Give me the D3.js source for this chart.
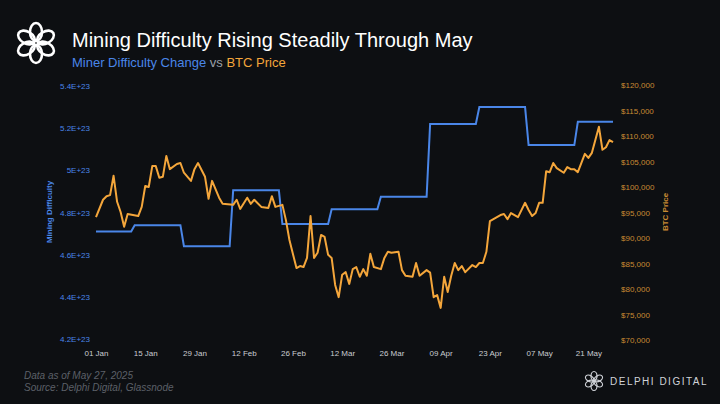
<!DOCTYPE html>
<html>
<head>
<meta charset="utf-8">
<script src="https://d3js.org/d3.v7.min.js"></script>
<style>
body { margin: 0; background: #0d0f12; }
svg text { font-family: "Liberation Sans", Arial, sans-serif; }
</style>
</head>
<body>
<div id="chart"></div>
<script>
// BTC price: day offset from 01 Jan 2025, price in USD
var priceDays = [0,2,3,4,5,6,7,8,9,12,13,14,15,16,17,18,19,20,21,23,24,25,27,28,29,31,32,33,35,36,39,40,41,43,44,45,47,49,50,51,53,54,55,57,58,59,60,61,62,63,64,65,66,67,68,69,70,71,72,73,74,75,76,77,78,79,81,82,83,84,86,87,88,90,91,92,94,95,96,97,98,99,100,101,102,103,104,105,107,108,109,110,111,112,113,115,116,117,118,120,122,123,124,125,126,127,128,129,130,131,133,134,135,136,137,139,140,141,143,144,145,146,147];
var priceVals = [94100,97500,98200,98400,102200,97100,95100,92200,94700,94300,96100,100200,100000,104100,104100,101800,102000,106100,103500,104500,104700,102800,101200,103500,104700,102000,97700,101200,97900,96700,96500,97500,95700,97900,96700,97500,96100,95900,98200,96100,96500,93500,89600,84100,84500,84300,86100,94300,86100,87100,90600,90200,86700,86100,80800,78400,82800,83300,81000,83900,84300,82400,83900,82600,86900,84300,83900,86100,87300,87100,87300,83700,82600,82400,85100,82600,83700,83200,78400,78800,76300,82400,79400,82600,85100,83700,84500,83300,84700,84300,85100,85100,87300,93300,93700,94500,94700,93700,94900,94100,96900,95500,94300,94900,96900,96900,103100,102900,104700,103700,102800,103900,103500,103500,102900,106500,105700,106700,111800,107300,107800,109200,108800];
// Mining difficulty: adjustment start day and value (E+23)
var diffDays = [0,11,25,39,53,67,81,95,109,123,137];
var diffVals = [4.71,4.74,4.64,4.905,4.745,4.815,4.875,5.22,5.30,5.12,5.23];
var diffEnd = 147;
var leftTicks = [4.2,4.4,4.6,4.8,5.0,5.2,5.4];
var leftLabels = ["4.2E+23","4.4E+23","4.6E+23","4.8E+23","5E+23","5.2E+23","5.4E+23"];
var rightTicks = [70000,75000,80000,85000,90000,95000,100000,105000,110000,115000,120000];
var xTickDates = ["2025-01-01","2025-01-15","2025-01-29","2025-02-12","2025-02-26","2025-03-12","2025-03-26","2025-04-09","2025-04-23","2025-05-07","2025-05-21"];

var W = 720, H = 404;
var BLUE = "#4a86e8", ORANGE = "#f4a63b";
var svg = d3.select("#chart").append("svg").attr("width", W).attr("height", H);
svg.append("rect").attr("width", W).attr("height", H).attr("fill", "#0d0f12");

var start = new Date(2025, 0, 1);
function day(d) { return d3.timeDay.offset(start, d); }

var x = d3.scaleTime().domain([start, day(147)]).range([96, 613]);
var yL = d3.scaleLinear().domain([4.2, 5.4]).range([339, 86]);
var yR = d3.scaleLinear().domain([70000, 120000]).range([340, 85]);

// header logo
var logo = svg.append("g").attr("transform", "translate(36,43)");
for (var i = 0; i < 6; i++) {
  logo.append("ellipse").attr("cx", 0).attr("cy", -11).attr("rx", 6).attr("ry", 9)
    .attr("transform", "rotate(" + (i * 60) + ")")
    .attr("fill", "none").attr("stroke", "#fff").attr("stroke-width", 2.6);
}
svg.append("text").attr("x", 72).attr("y", 47).attr("fill", "#fff")
  .attr("font-size", 20).text("Mining Difficulty Rising Steadily Through May");
var sub = svg.append("text").attr("x", 72).attr("y", 67).attr("font-size", 13);
sub.append("tspan").attr("fill", BLUE).text("Miner Difficulty Change");
sub.append("tspan").attr("fill", "#9aa0a8").text(" vs ");
sub.append("tspan").attr("fill", ORANGE).text("BTC Price");

// axes
var xAxis = d3.axisBottom(x).tickValues(xTickDates.map(function(s) { return d3.timeParse("%Y-%m-%d")(s); }))
  .tickFormat(d3.timeFormat("%d %b")).tickSize(0).tickPadding(5);
var gx = svg.append("g").attr("transform", "translate(0,345)").call(xAxis);
gx.select(".domain").remove();
gx.selectAll("text").attr("fill", "#c9ccd1").attr("font-size", 8);

var gl = svg.append("g").attr("transform", "translate(90,0)")
  .call(d3.axisLeft(yL).tickValues(leftTicks).tickFormat(function(d, i) { return leftLabels[i]; }).tickSize(0).tickPadding(0));
gl.select(".domain").remove();
gl.selectAll("text").attr("fill", BLUE).attr("font-size", 8);

var gr = svg.append("g").attr("transform", "translate(621,0)")
  .call(d3.axisRight(yR).tickValues(rightTicks).tickFormat(function(d) { return "$" + d3.format(",")(d); }).tickSize(0).tickPadding(0));
gr.select(".domain").remove();
gr.selectAll("text").attr("fill", "#c88a33").attr("font-size", 8);

svg.append("text").attr("transform", "translate(52,212) rotate(-90)").attr("text-anchor", "middle")
  .attr("fill", BLUE).attr("font-size", 8).attr("font-weight", "bold").text("Mining Difficulty");
svg.append("text").attr("transform", "translate(668,212) rotate(-90)").attr("text-anchor", "middle")
  .attr("fill", "#c88a33").attr("font-size", 8).attr("font-weight", "bold").text("BTC Price");

// difficulty steps (one-day ramp between adjustments)
var diffPts = [];
diffDays.forEach(function(d, i) {
  var end = i < diffDays.length - 1 ? diffDays[i + 1] - 1 : diffEnd;
  diffPts.push([d, diffVals[i]]);
  diffPts.push([end, diffVals[i]]);
});
svg.append("path").datum(diffPts)
  .attr("d", d3.line().x(function(p) { return x(day(p[0])); }).y(function(p) { return yL(p[1]); }))
  .attr("fill", "none").attr("stroke", BLUE).attr("stroke-width", 2);

var pricePts = priceDays.map(function(d, i) { return [d, priceVals[i]]; });
svg.append("path").datum(pricePts)
  .attr("d", d3.line().x(function(p) { return x(day(p[0])); }).y(function(p) { return yR(p[1]); }))
  .attr("fill", "none").attr("stroke", ORANGE).attr("stroke-width", 2).attr("stroke-linejoin", "round");

// footer
svg.append("text").attr("x", 24).attr("y", 379).attr("fill", "#5c6068").attr("font-size", 10)
  .attr("font-style", "italic").text("Data as of May 27, 2025");
svg.append("text").attr("x", 24).attr("y", 391).attr("fill", "#5c6068").attr("font-size", 10)
  .attr("font-style", "italic").text("Source: Delphi Digital, Glassnode");
var logo2 = svg.append("g").attr("transform", "translate(594,381)");
for (var j = 0; j < 6; j++) {
  logo2.append("ellipse").attr("cx", 0).attr("cy", -5).attr("rx", 3).attr("ry", 4.5)
    .attr("transform", "rotate(" + (j * 60) + ")")
    .attr("fill", "none").attr("stroke", "#d0d3d8").attr("stroke-width", 1.2);
}
svg.append("text").attr("x", 610).attr("y", 385).attr("fill", "#d0d3d8").attr("font-size", 10)
  .attr("letter-spacing", 1.5).text("DELPHI DIGITAL");
</script>
</body>
</html>
